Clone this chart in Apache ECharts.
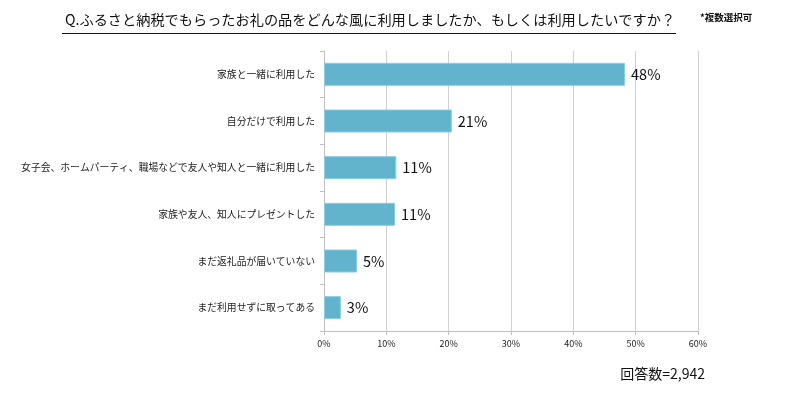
<!DOCTYPE html>
<html>
<head>
<meta charset="utf-8">
<script src="https://cdn.jsdelivr.net/npm/echarts@6/dist/echarts.min.js"></script>
<style>
  html,body{margin:0;padding:0;background:#fff;}
  #main{width:797px;height:396px;}
</style>
</head>
<body>
<div id="main"></div>
<script>
// 項目（上から順）
var categories=['家族と一緒に利用した','自分だけで利用した','女子会、ホームパーティ、職場などで友人や知人と一緒に利用した','家族や友人、知人にプレゼントした','まだ返礼品が届いていない','まだ利用せずに取ってある'];
var values=[48.3,20.5,11.6,11.4,5.3,2.7];
var valueLabels=['48%','21%','11%','11%','5%','3%'];
var xTicks=[0,10,20,30,40,50,60];

var FONT='"Noto Sans CJK JP", sans-serif';

var chart=echarts.init(document.getElementById('main'),null,{renderer:'canvas'});

var option={
  animation:false,
  backgroundColor:'#fff',
  title:{
    text:'Q.ふるさと納税でもらったお礼の品をどんな風に利用しましたか、もしくは利用したいですか？',
    left:60,
    top:8,
    textStyle:{fontFamily:FONT,fontSize:14.2,fontWeight:'normal',color:'#111'}
  },
  graphic:[
    {type:'line',shape:{x1:62,y1:33.5,x2:676,y2:33.5},style:{stroke:'#111',lineWidth:1.2}},
    {type:'text',left:700,top:13,style:{text:'*複数選択可',font:'bold 9.5px '+FONT,fill:'#111'}},
    {type:'text',right:92,top:367,style:{text:'回答数=2,942',font:'14px '+FONT,fill:'#111'}}
  ],
  grid:{left:324,right:99,top:51,bottom:65,containLabel:false},
  xAxis:{
    type:'value',
    min:0,max:60,interval:10,
    axisLine:{show:true,lineStyle:{color:'#bfbfbf'}},
    axisTick:{show:true,length:4,lineStyle:{color:'#bfbfbf'}},
    splitLine:{show:true,lineStyle:{color:'#d0d0d0',width:1}},
    axisLabel:{
      formatter:function(v){return xTicks.indexOf(v)>=0?v+'%':'';},
      fontFamily:FONT,fontSize:9,color:'#222',margin:8
    }
  },
  yAxis:{
    type:'category',
    inverse:true,
    data:categories,
    axisLine:{show:true,lineStyle:{color:'#bfbfbf'}},
    axisTick:{show:true,length:4,lineStyle:{color:'#bfbfbf'}},
    axisLabel:{fontFamily:FONT,fontSize:9.8,color:'#222',margin:9},
    splitLine:{show:false}
  },
  series:[{
    type:'bar',
    data:values,
    barWidth:23,
    itemStyle:{color:'#62b3cc',borderColor:'#8ccbe0',borderWidth:1},
    label:{
      show:true,
      position:'right',
      distance:6,
      formatter:function(p){return valueLabels[p.dataIndex];},
      fontFamily:FONT,fontSize:14.5,color:'#111'
    }
  }]
};

chart.setOption(option);
</script>
</body>
</html>
